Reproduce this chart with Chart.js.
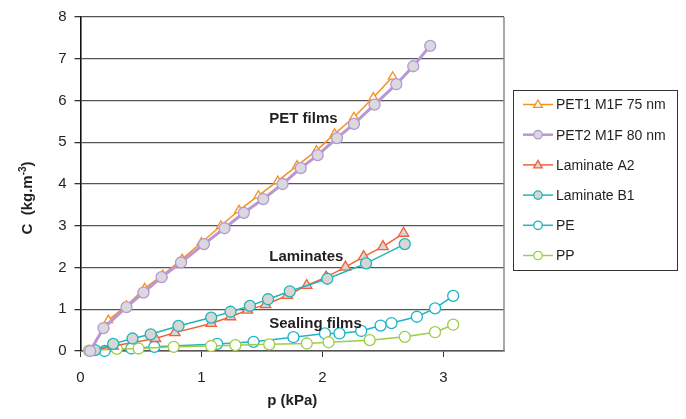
<!DOCTYPE html>
<html>
<head>
<meta charset="utf-8">
<script src="https://cdn.jsdelivr.net/npm/chart.js@4/dist/chart.umd.min.js"></script>
<style>
  html, body { margin: 0; padding: 0; background: #fff; }
  #wrap { width: 686px; height: 419px; }
</style>
</head>
<body>
<div id="wrap"><canvas id="chart" width="686" height="419"></canvas></div>
<script>
const FONT = '"Liberation Sans", Arial, sans-serif'
const TEXT = '#231f20'

// p (kPa) / C (kg.m-3)
const pet1P = [0.08, 0.23, 0.38, 0.53, 0.68, 0.84, 1.0, 1.16, 1.31, 1.47, 1.63, 1.79, 1.95, 2.1, 2.26, 2.42, 2.58]
const pet1C = [0.0, 0.74, 1.08, 1.5, 1.82, 2.2, 2.6, 3.0, 3.37, 3.72, 4.07, 4.44, 4.8, 5.2, 5.6, 6.07, 6.57]

const pet2P = [0.08, 0.19, 0.38, 0.52, 0.67, 0.83, 1.02, 1.19, 1.35, 1.51, 1.67, 1.82, 1.96, 2.12, 2.26, 2.43, 2.61, 2.75, 2.89]
const pet2C = [0.0, 0.55, 1.05, 1.4, 1.77, 2.12, 2.56, 2.94, 3.31, 3.64, 4.0, 4.38, 4.69, 5.1, 5.44, 5.9, 6.39, 6.82, 7.31]

const lamA2P = [0.1, 0.27, 0.62, 0.78, 1.08, 1.24, 1.38, 1.53, 1.71, 1.87, 2.03, 2.19, 2.34, 2.5, 2.67]
const lamA2C = [0.0, 0.12, 0.3, 0.44, 0.66, 0.82, 0.98, 1.11, 1.33, 1.57, 1.77, 2.01, 2.26, 2.5, 2.82]

const lamB1P = [0.12, 0.27, 0.43, 0.58, 0.81, 1.08, 1.24, 1.4, 1.55, 1.73, 2.04, 2.36, 2.68]
const lamB1C = [0.02, 0.17, 0.3, 0.4, 0.6, 0.8, 0.94, 1.08, 1.24, 1.43, 1.73, 2.1, 2.56]

const peP = [0.2, 0.42, 0.61, 1.13, 1.43, 1.76, 2.02, 2.14, 2.32, 2.48, 2.57, 2.78, 2.93, 3.08]
const peC = [0.0, 0.06, 0.1, 0.17, 0.22, 0.33, 0.42, 0.42, 0.48, 0.61, 0.67, 0.82, 1.02, 1.32]

const ppP = [0.07, 0.3, 0.48, 0.77, 1.08, 1.28, 1.56, 1.87, 2.05, 2.39, 2.68, 2.93, 3.08]
const ppC = [0.01, 0.05, 0.06, 0.1, 0.12, 0.14, 0.16, 0.18, 0.21, 0.26, 0.34, 0.45, 0.63]

const xTicks = [0, 1, 2, 3]

function pts(xs, ys) {
  return xs.map((x, i) => ({ x, y: ys[i] }))
}

function series(label, xs, ys, color, fill, style, opts) {
  return Object.assign({
    label,
    data: pts(xs, ys),
    borderColor: color,
    backgroundColor: fill,
    pointBackgroundColor: fill,
    pointBorderColor: color,
    pointStyle: style,
    borderWidth: 1.5,
    pointBorderWidth: 1.3,
    pointRadius: 5.5,
    showLine: true,
    tension: 0,
    clip: false,
  }, opts || {})
}

const datasets = [
  series('PET1 M1F 75 nm', pet1P, pet1C, '#f7901e', '#ffffff', 'triangle', { order: 2, pointRadius: 5 }),
  series('PET2 M1F 80 nm', pet2P, pet2C, '#b898d2', '#d9d9de', 'circle', { order: 1, borderWidth: 3 }),
  series('Laminate A2', lamA2P, lamA2C, '#f2603a', '#d6d6d6', 'triangle', { order: 4, pointRadius: 6 }),
  series('Laminate B1', lamB1P, lamB1C, '#22b5b8', '#d6d6d6', 'circle', { order: 3 }),
  series('PE', peP, peC, '#1db4c6', '#ffffff', 'circle', { order: 6 }),
  series('PP', ppP, ppC, '#9fcd45', '#ffffff', 'circle', { order: 5 }),
]

const notes = [
  { text: 'PET films', x: 1.56, y: 5.55 },
  { text: 'Laminates', x: 1.56, y: 2.26 },
  { text: 'Sealing films', x: 1.56, y: 0.64 },
]

function drawMarker(ctx, style, x, y, r) {
  ctx.beginPath()
  if (style === 'triangle') {
    ctx.moveTo(x, y - r)
    ctx.lineTo(x + r * 0.95, y + r * 0.65)
    ctx.lineTo(x - r * 0.95, y + r * 0.65)
    ctx.closePath()
  } else {
    ctx.arc(x, y, r, 0, Math.PI * 2)
  }
  ctx.fill()
  ctx.stroke()
}

const extras = {
  id: 'extras',
  afterDatasetsDraw(chart) {
    const { ctx, chartArea, scales } = chart
    ctx.save()
    // right frame edge
    ctx.strokeStyle = '#8a8a8a'
    ctx.lineWidth = 1.5
    ctx.beginPath()
    ctx.moveTo(chartArea.right, chartArea.top)
    ctx.lineTo(chartArea.right, chartArea.bottom)
    ctx.stroke()

    // group labels
    ctx.fillStyle = TEXT
    ctx.font = 'bold 15px ' + FONT
    ctx.textBaseline = 'middle'
    ctx.textAlign = 'left'
    notes.forEach((n) => {
      ctx.fillText(n.text, scales.x.getPixelForValue(n.x), scales.y.getPixelForValue(n.y))
    })

    // y title with superscript
    ctx.translate(28, 198)
    ctx.rotate(-Math.PI / 2)
    ctx.font = 'bold 15px ' + FONT
    const a = 'C  (kg.m'
    const sup = '-3'
    const b = ')'
    ctx.font = 'bold 15px ' + FONT
    const wa = ctx.measureText(a).width
    const wb = ctx.measureText(b).width
    ctx.font = 'bold 10px ' + FONT
    const ws = ctx.measureText(sup).width
    let x0 = -(wa + ws + wb) / 2
    ctx.font = 'bold 15px ' + FONT
    ctx.fillText(a, x0, 0)
    ctx.font = 'bold 10px ' + FONT
    ctx.fillText(sup, x0 + wa, -5)
    ctx.font = 'bold 15px ' + FONT
    ctx.fillText(b, x0 + wa + ws, 0)
    ctx.restore()

    // legend box
    ctx.save()
    ctx.strokeStyle = '#333'
    ctx.lineWidth = 1
    ctx.strokeRect(513.5, 90.5, 164, 180)
    ctx.font = '14px ' + FONT
    ctx.textBaseline = 'middle'
    chart.data.datasets.forEach((ds, i) => {
      const y = 104.5 + i * 30.2
      ctx.strokeStyle = ds.borderColor
      ctx.lineWidth = Math.min(ds.borderWidth, 2.5)
      ctx.beginPath()
      ctx.moveTo(523, y)
      ctx.lineTo(553, y)
      ctx.stroke()
      ctx.fillStyle = ds.pointBackgroundColor
      ctx.lineWidth = 1.3
      drawMarker(ctx, ds.pointStyle, 538, y, ds.pointStyle === 'triangle' ? 4.5 : 4.2)
      ctx.fillStyle = TEXT
      ctx.fillText(ds.label, 556, y + 1)
    })
    ctx.restore()
  },
}

new Chart(document.getElementById('chart'), {
  type: 'scatter',
  data: { datasets },
  options: {
    responsive: false,
    animation: false,
    layout: { padding: { top: 14, right: 182, bottom: 0, left: 0 } },
    plugins: {
      legend: { display: false },
      tooltip: { enabled: false },
    },
    scales: {
      x: {
        type: 'linear',
        min: 0,
        max: 3.5,
        afterBuildTicks: (s) => { s.ticks = xTicks.map((v) => ({ value: v })) },
        afterFit: (s) => { s.height = 68 },
        grid: { drawOnChartArea: false, drawTicks: true, tickLength: 6, tickColor: '#333' },
        border: { color: '#555', width: 1.5 },
        ticks: { color: TEXT, font: { family: FONT, size: 15 }, padding: 12 },
        title: { display: true, text: 'p (kPa)', color: TEXT, font: { family: FONT, size: 15, weight: 'bold' }, padding: { top: 0, bottom: 9 } },
      },
      y: {
        min: 0,
        max: 8,
        afterFit: (s) => { s.width = 80.5 },
        grid: { color: '#555', lineWidth: 1.3, drawTicks: true, tickLength: 6, tickColor: '#333' },
        border: { color: '#111', width: 1.6 },
        ticks: { stepSize: 1, color: TEXT, font: { family: FONT, size: 15 }, padding: 8 },
      },
    },
  },
  plugins: [extras],
})
</script>
</body>
</html>
